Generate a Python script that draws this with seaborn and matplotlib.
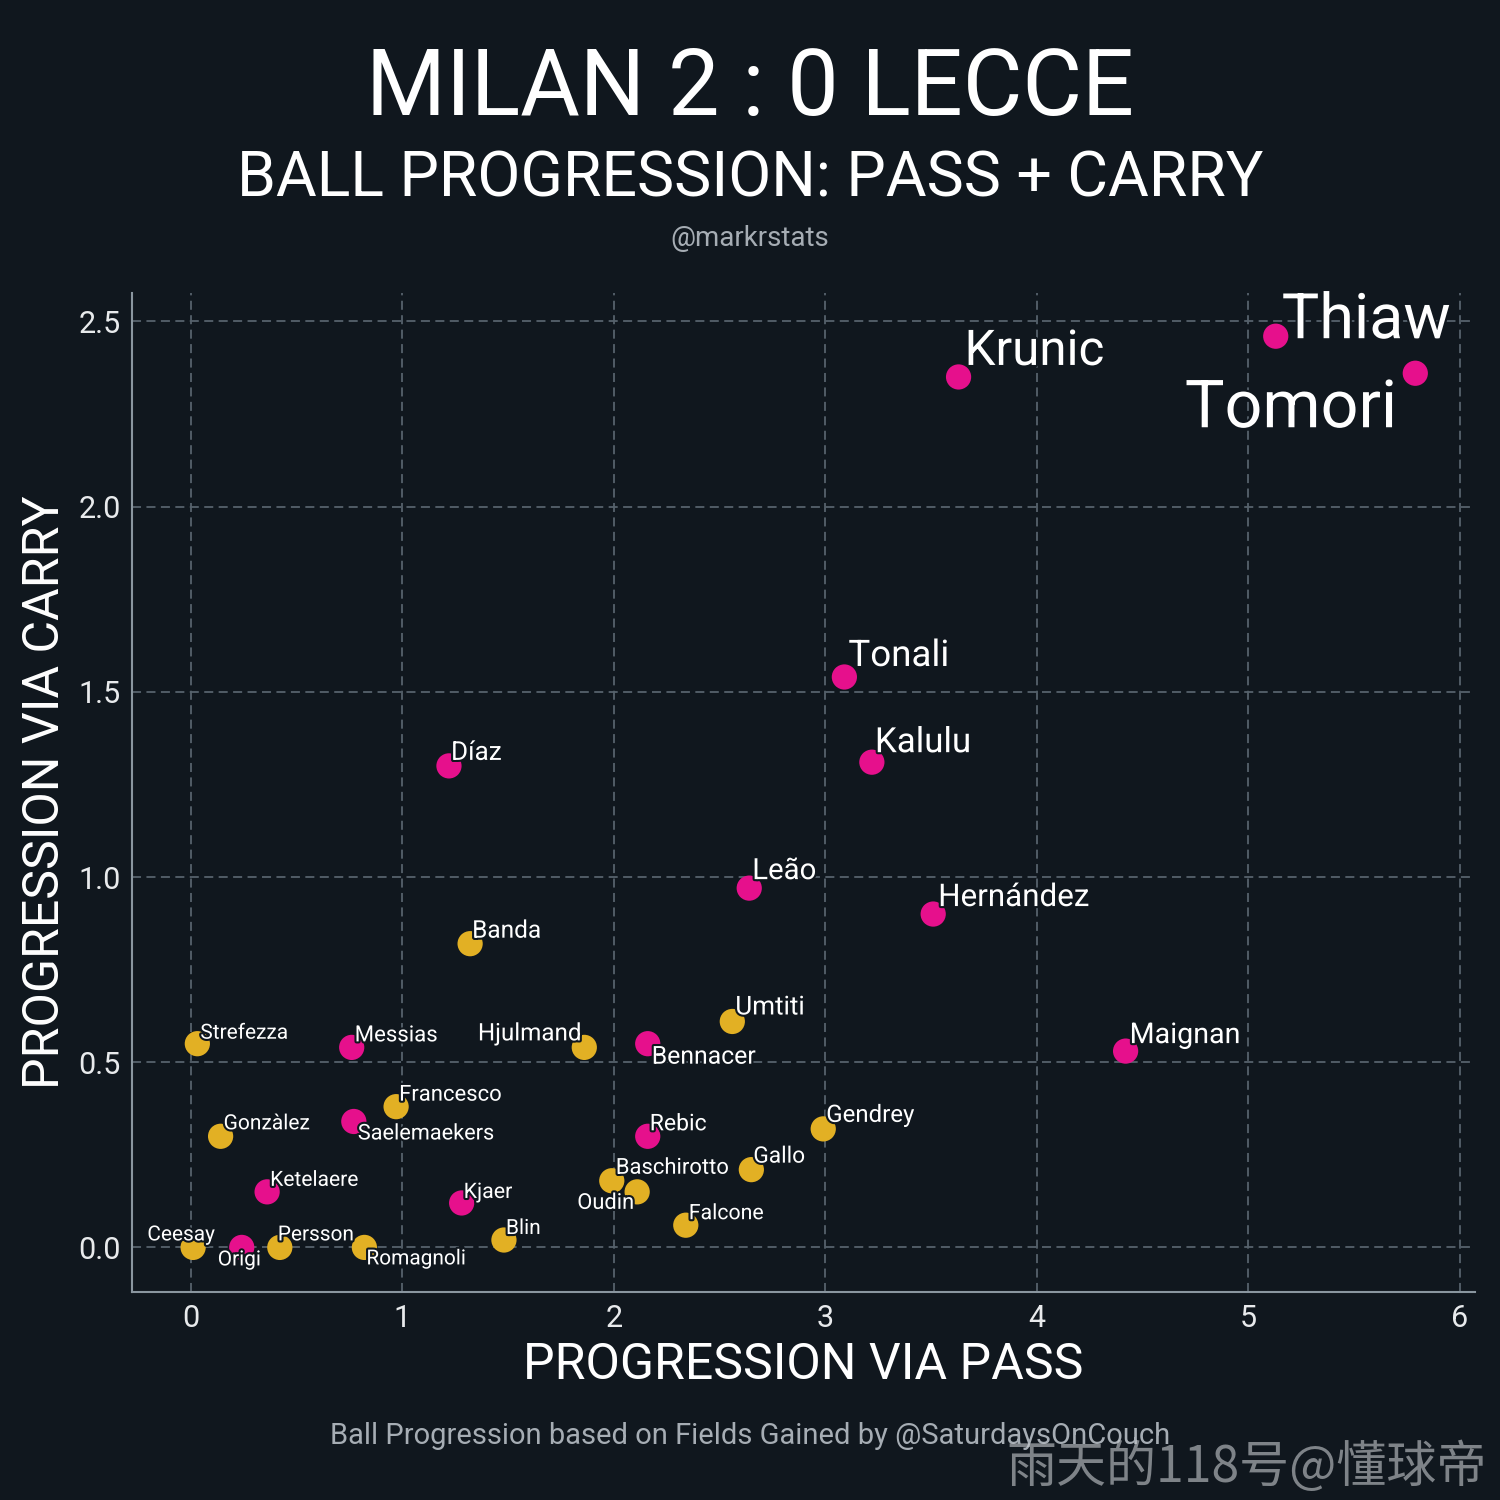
import matplotlib
matplotlib.use("Agg")
import matplotlib.pyplot as plt
import matplotlib.patheffects as pe
import seaborn as sns
import pandas as pd

# 数据：传球推进 / 带球推进
players = ["Thiaw", "Tomori", "Krunic", "Tonali", "Kalulu", "Díaz", "Leão",
           "Hernández", "Maignan", "Messias", "Bennacer", "Saelemaekers",
           "Rebic", "Ketelaere", "Kjaer", "Origi",
           "Banda", "Umtiti", "Strefezza", "Hjulmand", "Francesco", "Gonzàlez",
           "Gendrey", "Gallo", "Baschirotto", "Oudin", "Falcone", "Blin",
           "Ceesay", "Persson", "Romagnoli"]
teams = ["Milan"] * 16 + ["Lecce"] * 15
pass_prog = [5.13, 5.79, 3.63, 3.09, 3.22, 1.22, 2.64,
             3.51, 4.42, 0.76, 2.16, 0.77,
             2.16, 0.36, 1.28, 0.24,
             1.32, 2.56, 0.03, 1.86, 0.97, 0.14,
             2.99, 2.65, 1.99, 2.11, 2.34, 1.48,
             0.01, 0.42, 0.82]
carry_prog = [2.46, 2.36, 2.35, 1.54, 1.31, 1.30, 0.97,
              0.90, 0.53, 0.54, 0.55, 0.34,
              0.30, 0.15, 0.12, 0.00,
              0.82, 0.61, 0.55, 0.54, 0.38, 0.30,
              0.32, 0.21, 0.18, 0.15, 0.06, 0.02,
              0.00, 0.00, 0.00]

# 标签位置 (ha, dx, dy) 像素偏移
label_pos = {
    "Thiaw": ("left", 6, -2), "Tomori": ("right", -18, -54),
    "Krunic": ("left", 6, 12), "Tonali": ("left", 4, 11),
    "Kalulu": ("left", 3, 10), "Díaz": ("left", 2, 6),
    "Leão": ("left", 3, 9), "Hernández": ("left", 5, 8),
    "Maignan": ("left", 4, 8), "Messias": ("left", 3, 6),
    "Bennacer": ("left", 4, -20), "Saelemaekers": ("left", 4, -18),
    "Rebic": ("left", 2, 6), "Ketelaere": ("left", 3, 6),
    "Kjaer": ("left", 2, 5), "Origi": ("left", -24, -18),
    "Banda": ("left", 2, 6), "Umtiti": ("left", 3, 7),
    "Strefezza": ("left", 3, 5), "Hjulmand": ("right", -3, 7),
    "Francesco": ("left", 3, 6), "Gonzàlez": ("left", 3, 7),
    "Gendrey": ("left", 3, 7), "Gallo": ("left", 2, 7),
    "Baschirotto": ("left", 4, 7), "Oudin": ("right", -3, -17),
    "Falcone": ("left", 3, 6), "Blin": ("left", 2, 6),
    "Ceesay": ("right", 22, 7), "Persson": ("left", -2, 7),
    "Romagnoli": ("left", 2, -17),
}

BG = "#10171e"
PINK = "#e6108c"
GOLD = "#e2b024"
GRID = "#56626c"

df = pd.DataFrame({"player": players, "team": teams,
                   "pass": pass_prog, "carry": carry_prog})

sns.set_theme(style="dark")
plt.rcParams["font.family"] = ["Roboto", "DejaVu Sans"]

fig = plt.figure(figsize=(15, 15), dpi=100, facecolor=BG)
ax = fig.add_axes([0.088, 0.139, 0.895, 0.666])
ax.set_facecolor(BG)

sns.scatterplot(data=df, x="pass", y="carry", hue="team",
                palette={"Milan": PINK, "Lecce": GOLD},
                s=330, linewidth=0, legend=False, ax=ax, zorder=3)

stroke = [pe.withStroke(linewidth=3, foreground=BG)]
for _, row in df.iterrows():
    ha, dx, dy = label_pos[row["player"]]
    fs = 15 + 2.4 * row["pass"] * row["carry"]
    ax.annotate(row["player"], (row["pass"], row["carry"]),
                xytext=(dx, dy), textcoords="offset pixels",
                ha=ha, va="baseline", fontsize=fs, color="white",
                path_effects=stroke, zorder=4)

ax.set_xlim(-0.279, 6.07)
ax.set_ylim(-0.119, 2.578)
ax.set_xticks([0, 1, 2, 3, 4, 5, 6])
ax.set_yticks([0.0, 0.5, 1.0, 1.5, 2.0, 2.5])
ax.set_yticklabels(["0.0", "0.5", "1.0", "1.5", "2.0", "2.5"])
ax.tick_params(axis="both", length=0, labelsize=22, colors="#e8eaec")
ax.tick_params(axis="x", pad=9)
ax.tick_params(axis="y", pad=8)
ax.grid(True, color=GRID, linestyle=(0, (5, 3)), linewidth=1.3)

for side in ["top", "right"]:
    ax.spines[side].set_visible(False)
for side in ["left", "bottom"]:
    ax.spines[side].set_visible(True)
    ax.spines[side].set_color("#8a969f")
    ax.spines[side].set_linewidth(1.5)

ax.set_xlabel("PROGRESSION VIA PASS", fontsize=36, color="white", labelpad=6)
ax.set_ylabel("PROGRESSION VIA CARRY", fontsize=36, color="white", labelpad=7)

fig.text(0.5, 0.9233, "MILAN 2 : 0 LECCE", ha="center", va="baseline",
         fontsize=66, color="white")
fig.text(0.5, 0.8687, "BALL PROGRESSION: PASS + CARRY", ha="center",
         va="baseline", fontsize=45, color="white")
fig.text(0.5, 0.836, "@markrstats", ha="center", va="baseline",
         fontsize=20, color="#a6adb4")
fig.text(0.5, 0.037, "Ball Progression based on Fields Gained by @SaturdaysOnCouch",
         ha="center", va="baseline", fontsize=21, color="#a6adb4")
fig.text(0.991, 0.012, "雨天的118号@懂球帝", ha="right", va="baseline",
         fontsize=36, color="#c8ccd0", alpha=0.6,
         family=["Noto Sans CJK SC", "DejaVu Sans"])

fig.savefig("out.png", dpi=100, facecolor=BG)
